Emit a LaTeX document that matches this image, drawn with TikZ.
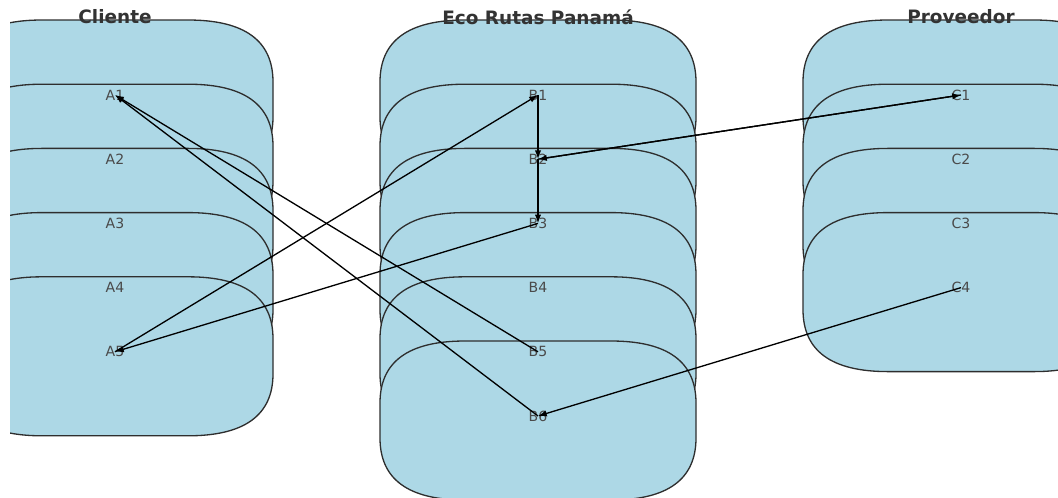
\documentclass[tikz,border=0pt]{standalone}
\usepackage{fontspec}
\setmainfont{DejaVu Sans}
\usetikzlibrary{arrows.meta}
\definecolor{boxfill}{HTML}{ADD8E6}
\definecolor{boxline}{HTML}{2E2E2E}
\definecolor{labelgray}{HTML}{4A4A4A}
\definecolor{titlegray}{HTML}{333333}

% one rounded lane box centred on a label position
\newcommand\lanebox[2]{%
  \path[lane,shift={(#1,#2)}]
    (-158,-13) -- (-158,22)
    .. controls (-158,63.3) and (-129.7,84) .. (-73,84)
    -- (73,84)
    .. controls (129.7,84) and (158,63.3) .. (158,22)
    -- (158,-13)
    .. controls (158,-54.3) and (129.7,-75) .. (73,-75)
    -- (-73,-75)
    .. controls (-129.7,-75) and (-158,-54.3) .. (-158,-13)
    -- cycle;}

\begin{document}
\begin{tikzpicture}[x=0.02cm,y=-0.02cm,
  lane/.style={fill=boxfill,draw=boxline,line width=0.75pt},
  item/.style={inner sep=0pt,text=labelgray,font=\fontsize{8}{9}\selectfont},
  heading/.style={inner sep=0pt,text=titlegray,font=\bfseries\fontsize{10.5}{12}\selectfont},
  edge/.style={draw=black,line width=0.75pt,-{Latex[length=5pt,width=3.6pt]}}]

\useasboundingbox (0,0) rectangle (1058,497);

\begin{scope}
  \clip (10,0) rectangle (1058,497);
  % Cliente
  \foreach \yy in {95,159.2,223.4,287.6,351.8} {\lanebox{115}{\yy}}
  % Eco Rutas Panamá
  \foreach \yy in {95,159.2,223.4,287.6,351.8,416} {\lanebox{538}{\yy}}
  % Proveedor
  \foreach \yy in {95,159.2,223.4,287.6} {\lanebox{961}{\yy}}
\end{scope}

% column headings
\node[heading] (tA) at (115,17) {Cliente};
\node[heading] (tB) at (538,17) {Eco Rutas Panamá};
\node[heading] (tC) at (961,17) {Proveedor};

% actors and steps
\node[item] (A1) at (115,95) {A1};
\node[item] (A2) at (115,159.2) {A2};
\node[item] (A3) at (115,223.4) {A3};
\node[item] (A4) at (115,287.6) {A4};
\node[item] (A5) at (115,351.8) {A5};

\node[item] (B1) at (538,95) {B1};
\node[item] (B2) at (538,159.2) {B2};
\node[item] (B3) at (538,223.4) {B3};
\node[item] (B4) at (538,287.6) {B4};
\node[item] (B5) at (538,351.8) {B5};
\node[item] (B6) at (538,416) {B6};

\node[item] (C1) at (961,95) {C1};
\node[item] (C2) at (961,159.2) {C2};
\node[item] (C3) at (961,223.4) {C3};
\node[item] (C4) at (961,287.6) {C4};

% message flow
\draw[edge] (B5.center) -- (A1.center);
\draw[edge] (B6.center) -- (A1.center);
\draw[edge] (A5.center) -- (B1.center);
\draw[edge] (B3.center) -- (A5.center);
\draw[edge] (B1.center) -- (B2.center);
\draw[edge] (B2.center) -- (B3.center);
\draw[edge] (C1.center) -- (B2.center);
\draw[edge] (B2.center) -- (C1.center);
\draw[edge] (C4.center) -- (B6.center);
\end{tikzpicture}
\end{document}
